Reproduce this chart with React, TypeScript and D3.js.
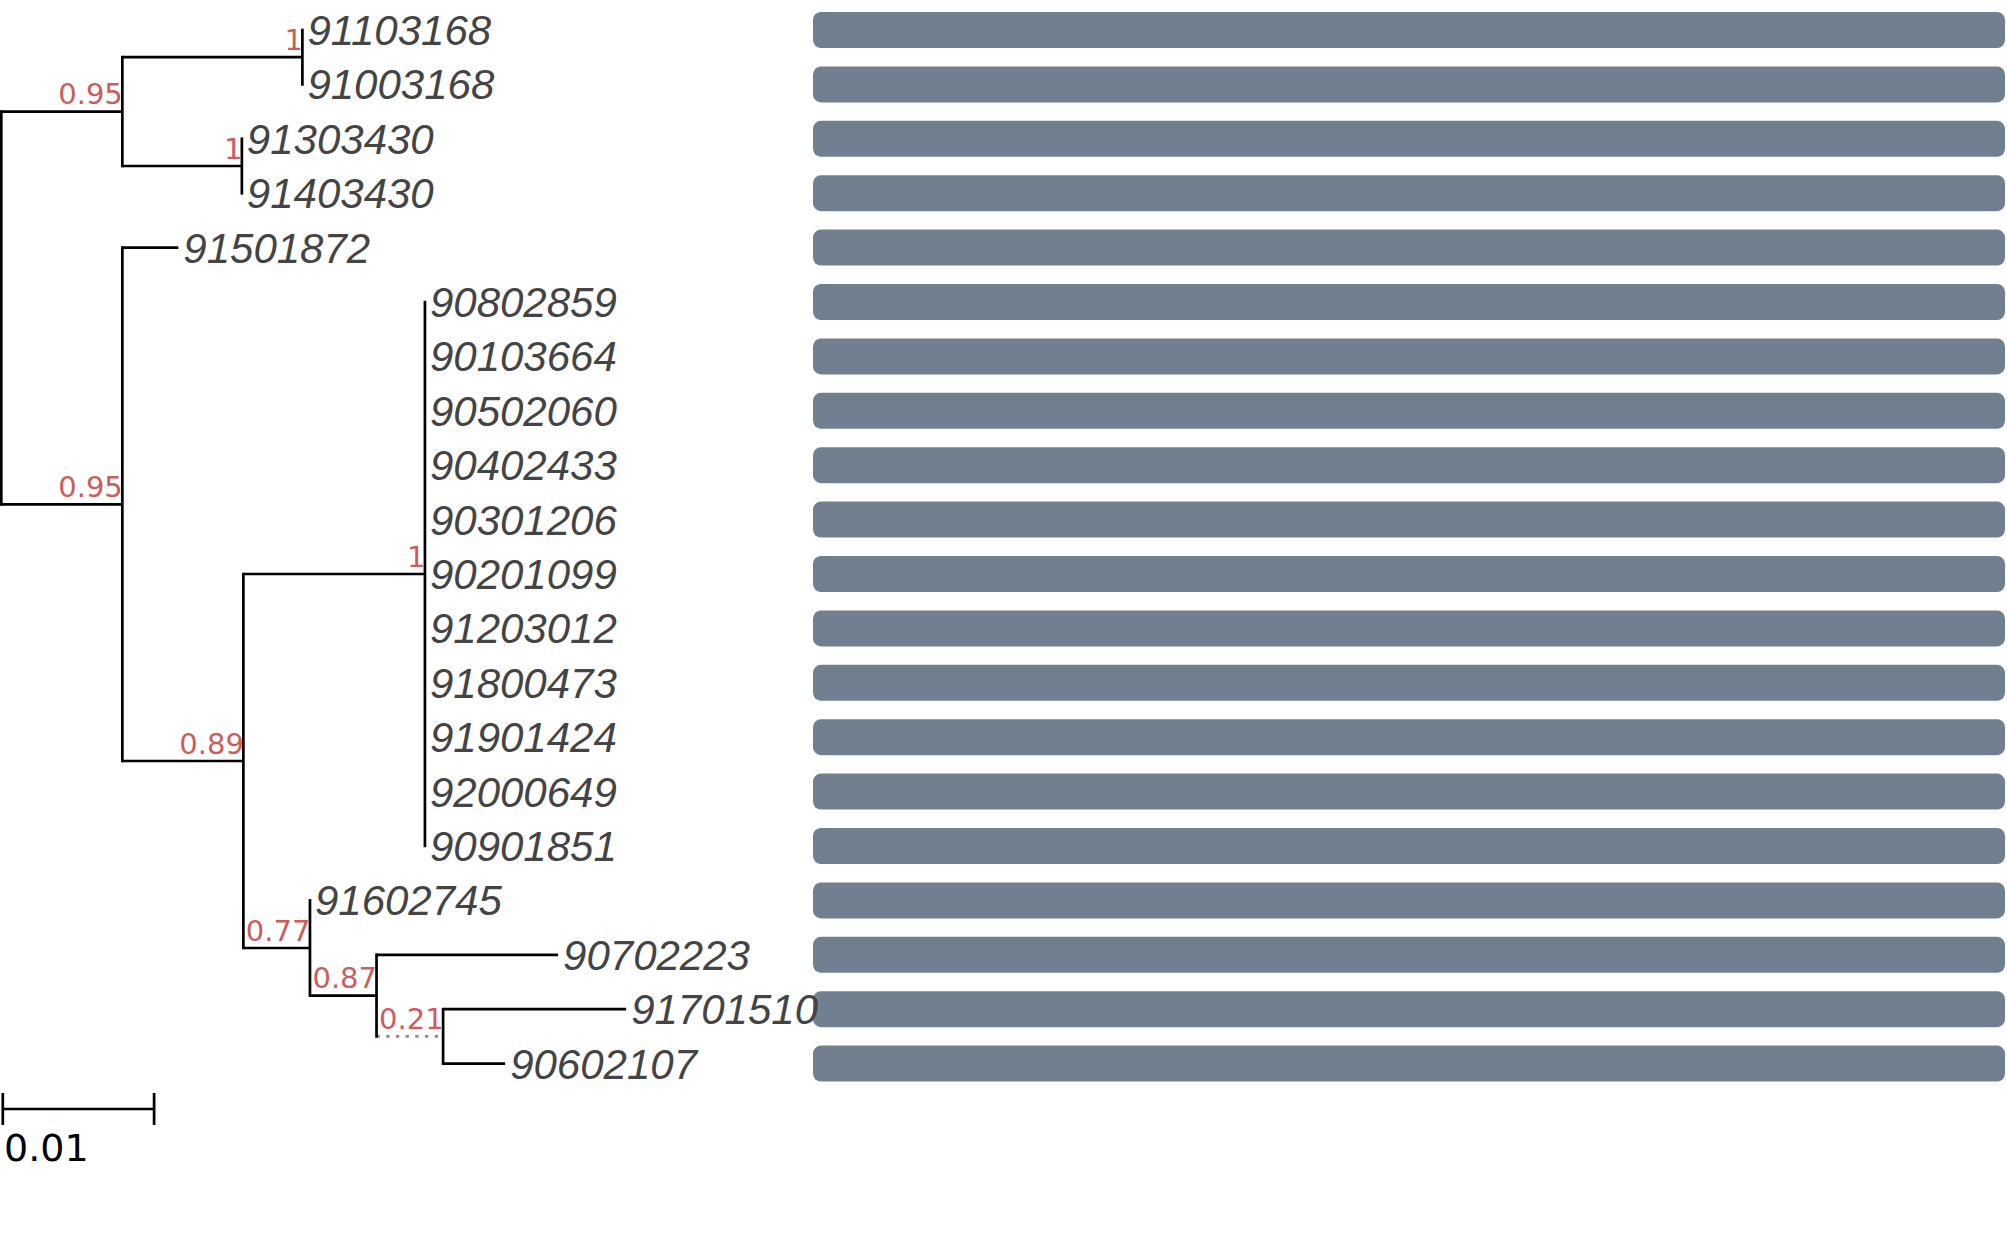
import { useRef, useEffect } from "react";
import * as d3 from "d3";

// leaves, top to bottom
const leafNames = [
  "91103168", "91003168", "91303430", "91403430", "91501872",
  "90802859", "90103664", "90502060", "90402433", "90301206",
  "90201099", "91203012", "91800473", "91901424", "92000649",
  "90901851", "91602745", "90702223", "91701510", "90602107",
];
const leafParents = [
  "B", "B", "C", "C", "D",
  "F", "F", "F", "F", "F",
  "F", "F", "F", "F", "F",
  "F", "G", "H", "I", "I",
];
const leafLengths = [
  0, 0, 0, 0, 0.0037,
  0, 0, 0, 0, 0,
  0, 0, 0, 0, 0,
  0, 0, 0.012, 0.0121, 0.0041,
];

// internal nodes
const cladeIds = ["root", "A", "B", "C", "D", "E", "F", "G", "H", "I"];
const cladeParents = ["", "root", "A", "A", "root", "D", "E", "E", "G", "H"];
const cladeLengths = [0, 0.008, 0.0119, 0.0079, 0.008, 0.008, 0.012, 0.0044, 0.0044, 0.0044];
const cladeSupport = [null, 0.95, 1, 1, 0.95, 0.89, 1, 0.77, 0.87, 0.21];

const scaleBarValue = 0.01;

interface TreeNode {
  id: string;
  parent: string;
  length: number;
  support: number | null;
  leafIndex: number | null;
  children: TreeNode[];
  dist: number;
  y: number;
}

export default function App() {
  const svgRef = useRef<SVGSVGElement>(null);

  useEffect(() => {
    if (!svgRef.current) return;
    const svg = d3.select(svgRef.current);
    svg.selectAll("*").remove();

    const x = d3.scaleLinear().domain([0, scaleBarValue]).range([1.3, 152.6]);
    const y = d3.scaleLinear().domain([0, leafNames.length - 1]).range([30, 1063.6]);

    // build the tree
    const nodes = new Map<string, TreeNode>();
    cladeIds.forEach((id, i) =>
      nodes.set(id, {
        id, parent: cladeParents[i], length: cladeLengths[i], support: cladeSupport[i],
        leafIndex: null, children: [], dist: 0, y: 0,
      })
    );
    leafNames.forEach((id, i) =>
      nodes.set(id, {
        id, parent: leafParents[i], length: leafLengths[i], support: null,
        leafIndex: i, children: [], dist: 0, y: 0,
      })
    );
    nodes.forEach((n) => {
      if (n.parent) nodes.get(n.parent)!.children.push(n);
    });
    const root = nodes.get("root")!;

    const layout = (n: TreeNode, d: number) => {
      n.dist = d + n.length;
      n.children.forEach((c) => layout(c, n.dist));
      if (n.leafIndex !== null) n.y = y(n.leafIndex);
      else {
        const ys = n.children.map((c) => c.y);
        n.y = (d3.min(ys)! + d3.max(ys)!) / 2;
      }
    };
    layout(root, 0);

    const all = Array.from(nodes.values());
    const internals = all.filter((n) => n.children.length > 0);
    const leaves = all.filter((n) => n.leafIndex !== null);
    const stroke = 2.7;

    // bars
    svg.append("g")
      .selectAll("rect")
      .data(leafNames)
      .join("rect")
      .attr("x", 813)
      .attr("y", (_, i) => y(i) - 18)
      .attr("width", 2005 - 813)
      .attr("height", 36)
      .attr("rx", 8)
      .attr("fill", "#708090");

    const g = svg.append("g");

    // horizontal branches
    g.selectAll("line.h")
      .data(all.filter((n) => n.parent && n.length > 0))
      .join("line")
      .attr("class", "h")
      .attr("x1", (n) => x(nodes.get(n.parent)!.dist))
      .attr("x2", (n) => x(n.dist))
      .attr("y1", (n) => n.y)
      .attr("y2", (n) => n.y)
      .attr("stroke", (n) => (n.support !== null && n.support < 0.5 ? "#8c8c8c" : "#000"))
      .attr("stroke-dasharray", (n) => (n.support !== null && n.support < 0.5 ? "3.3,6.4" : null))
      .attr("stroke-width", stroke);

    // vertical connectors
    g.selectAll("line.v")
      .data(internals)
      .join("line")
      .attr("class", "v")
      .attr("x1", (n) => x(n.dist))
      .attr("x2", (n) => x(n.dist))
      .attr("y1", (n) => d3.min(n.children, (c) => c.y)! - stroke / 2)
      .attr("y2", (n) => d3.max(n.children, (c) => c.y)! + stroke / 2)
      .attr("stroke", "#000")
      .attr("stroke-width", stroke);

    // support values
    g.selectAll("text.support")
      .data(internals.filter((n) => n.support !== null))
      .join("text")
      .attr("class", "support")
      .attr("x", (n) => x(n.dist) + 0.5)
      .attr("y", (n) => n.y - 7.5)
      .attr("text-anchor", "end")
      .attr("font-family", "DejaVu Sans")
      .attr("font-size", 29)
      .attr("fill", "#cd5c5c")
      .text((n) => String(n.support));

    // leaf names
    g.selectAll("text.leaf")
      .data(leaves)
      .join("text")
      .attr("class", "leaf")
      .attr("x", (n) => x(n.dist) + 5)
      .attr("y", (n) => n.y + 15)
      .attr("font-family", "Liberation Sans, Arial, sans-serif")
      .attr("font-style", "italic")
      .attr("font-size", 42)
      .attr("fill", "#444444")
      .text((n) => n.id);

    // scale bar
    const sb = svg.append("g").attr("stroke", "#000").attr("stroke-width", stroke);
    const sx0 = x(0) + 1.5;
    const sx1 = x(scaleBarValue) + 1.5;
    sb.append("line").attr("x1", sx0).attr("x2", sx1).attr("y1", 1109).attr("y2", 1109);
    sb.append("line").attr("x1", sx0).attr("x2", sx0).attr("y1", 1093).attr("y2", 1125);
    sb.append("line").attr("x1", sx1).attr("x2", sx1).attr("y1", 1093).attr("y2", 1125);
    svg.append("text")
      .attr("x", 4)
      .attr("y", 1161)
      .attr("font-family", "DejaVu Sans")
      .attr("font-size", 38)
      .attr("fill", "#000")
      .text(String(scaleBarValue));
  }, []);

  return (
    <svg
      ref={svgRef}
      width={2007}
      height={1245}
      style={{ position: "absolute", left: 0, top: 0, background: "#fff" }}
    />
  );
}
